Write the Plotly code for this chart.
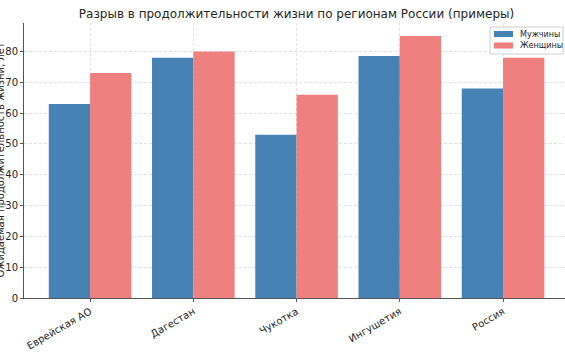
import plotly.graph_objects as go

regions = ["Еврейская АО", "Дагестан", "Чукотка", "Ингушетия", "Россия"]
men = [63, 78, 53, 78.5, 68]
women = [73, 80, 66, 85, 78]
yticks = [0, 10, 20, 30, 40, 50, 60, 70, 80]
series_names = ["Мужчины", "Женщины"]
series_colors = ["#4682B4", "#F08080"]

W, H = 565, 355
L, R, T, B = 24, 0, 23, 57  # plot area: x 24..565, y 23..298
PW, PH = W - L - R, H - T - B


def px(x):
    return (x - L) / PW


def py(y):
    return 1 - (y - T) / PH


x_idx = list(range(len(regions)))
fig = go.Figure()
for vals, off, name, col in [(men, -0.2, series_names[0], series_colors[0]),
                             (women, 0.2, series_names[1], series_colors[1])]:
    fig.add_trace(go.Bar(x=[i + off for i in x_idx], y=vals, width=0.4, name=name,
                         marker=dict(color=col, line=dict(width=0)), showlegend=False))

font = "DejaVu Sans"
fig.update_layout(
    width=W, height=H,
    margin=dict(l=L, r=R, t=T, b=B),
    paper_bgcolor="white", plot_bgcolor="white",
    barmode="overlay",
    font=dict(family=font, size=10, color="#262626"),
    title=dict(text="Разрыв в продолжительности жизни по регионам России (примеры)",
               x=(24 + 569) / 2 / W, xanchor="center", y=1 - 14 / H, yanchor="middle",
               font=dict(size=12, color="#262626")),
    showlegend=False,
)
fig.update_xaxes(
    range=[-0.64, 4.6], tickmode="array", tickvals=x_idx, ticktext=regions,
    tickangle=-30, showline=True, linecolor="#555555", linewidth=1,
    ticks="outside", ticklen=3, tickcolor="#555555",
    showgrid=True, gridcolor="#e2e2e2", griddash="3px,2px", gridwidth=0.8,
    zeroline=False, automargin=False,
)
fig.update_yaxes(
    range=[0, 89.25], tickmode="array", tickvals=yticks, showticklabels=True,
    showline=True, linecolor="#555555", linewidth=1,
    ticks="outside", ticklen=3, tickcolor="#555555",
    showgrid=True, gridcolor="#e2e2e2", griddash="3px,2px", gridwidth=0.8,
    zeroline=False, automargin=False, ticklabeloverflow="allow",
    tickfont=dict(size=10, color="#262626"),
)
fig.add_annotation(text="Ожидаемая продолжительность жизни, лет", textangle=-90,
                   xref="paper", yref="paper", x=px(0), y=0.5,
                   xanchor="center", yanchor="middle", showarrow=False,
                   font=dict(size=10, color="#262626"))

# legend box (matplotlib style)
fig.add_shape(type="rect", xref="paper", yref="paper",
              x0=px(490), x1=px(563), y0=py(54), y1=py(27),
              fillcolor="rgba(255,255,255,0.85)", line=dict(color="#d0d0d0", width=1))
for k, (name, col) in enumerate(zip(series_names, series_colors)):
    yc = 34 + k * 11.5
    fig.add_shape(type="rect", xref="paper", yref="paper",
                  x0=px(494), x1=px(513), y0=py(yc + 3), y1=py(yc - 3),
                  fillcolor=col, line=dict(width=0))
    fig.add_annotation(text=name, xref="paper", yref="paper", x=px(518), y=py(yc),
                       xanchor="left", yanchor="middle", showarrow=False,
                       font=dict(size=8, color="#262626"))
fig.write_html("out.html")
